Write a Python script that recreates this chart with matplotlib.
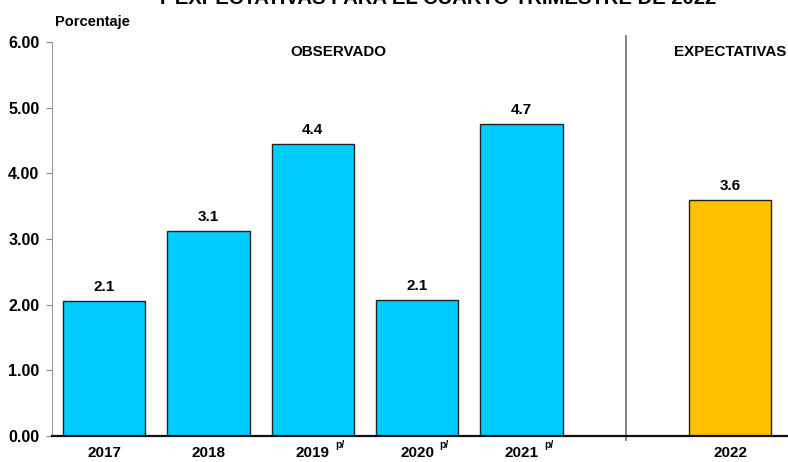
import matplotlib
matplotlib.use("Agg")
import matplotlib.pyplot as plt
import matplotlib.transforms as mtransforms

plt.rcParams['font.family'] = ['Liberation Sans', 'DejaVu Sans']
plt.rcParams['font.weight'] = 'bold'

years = ["2017", "2018", "2019", "2020", "2021", "2022"]
prelim = [False, False, True, True, True, False]
values = [2.05, 3.12, 4.44, 2.07, 4.75, 3.60]
value_labels = ["2.1", "3.1", "4.4", "2.1", "4.7", "3.6"]
positions = [0, 1, 2, 3, 4, 6]
colors = ["#00CCFF"] * 5 + ["#FFC000"]
yticks = [0, 1, 2, 3, 4, 5, 6]
title = "Y EXPECTATIVAS PARA EL CUARTO TRIMESTRE DE 2022"

fig = plt.figure(figsize=(7.88, 4.62), dpi=100)
ax = fig.add_axes([52/788, 1 - 436/462, (788-52)/788, (436-42)/462])

ax.bar(positions, values, width=0.79, color=colors, edgecolor="#222222", linewidth=1.0, zorder=2)
for p, v, lab in zip(positions, values, value_labels):
    ax.annotate(lab, xy=(p, v), xytext=(0, 5), textcoords="offset points",
                ha="center", va="bottom", fontsize=11, fontweight="bold")

ax.set_xlim(-0.5, 6.556)
ax.set_ylim(0, 6)
ax.set_yticks(yticks)
ax.set_yticklabels([f"{t:.2f}" for t in yticks], fontsize=11.5, fontweight="bold")
ax.set_xticks(positions)
ax.set_xticklabels(years, fontsize=11, fontweight="bold")
ax.tick_params(axis="x", length=0, pad=7.5)
ax.tick_params(axis="y", length=4, color="#888888", width=0.8, pad=5)

for s in ["top", "right"]:
    ax.spines[s].set_visible(False)
ax.spines["left"].set_color("#999999")
ax.spines["left"].set_linewidth(0.8)
ax.spines["bottom"].set_color("#111111")
ax.spines["bottom"].set_linewidth(1.6)
ax.spines["bottom"].set_zorder(3)

# separator between observed and expectations
ax.axvline(5, ymin=-0.01, ymax=1.015, color="#777777", linewidth=1.3, clip_on=False, zorder=1)

trans = mtransforms.blended_transform_factory(ax.transData, ax.transAxes)
for p, pr in zip(positions, prelim):
    if pr:
        ax.annotate("p/", xy=(p, 0), xycoords=trans, xytext=(19.5, -6.5), textcoords="offset points",
                    ha="center", va="center", fontsize=7.5, fontweight="bold", annotation_clip=False)

ax.text(2.25, 0.975, "OBSERVADO", transform=trans, ha="center", va="center",
        fontsize=10.9, fontweight="bold")
ax.text(6.0, 0.975, "EXPECTATIVAS", transform=trans, ha="center", va="center",
        fontsize=10.9, fontweight="bold")
fig.text(55/788, 1 - 22/462, "Porcentaje", ha="left", va="center", fontsize=10.5, fontweight="bold")

fig.text(436/788, 1 - 3.5/462, title, ha="center", va="baseline", fontsize=14.6, fontweight="bold")

fig.savefig("out.png", dpi=100)
